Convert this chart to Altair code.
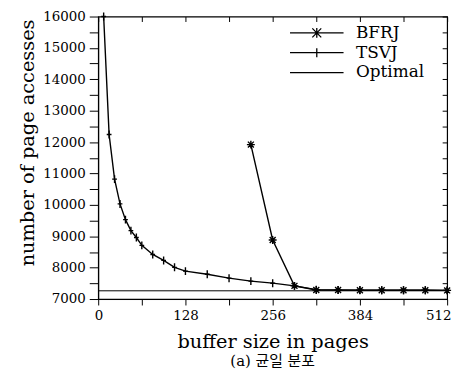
import altair as alt
import pandas as pd

# ---- data ----
tsvj_x = [8, 16, 24, 32, 40, 48, 56, 64, 80, 96, 112, 128, 160, 192, 224, 256, 288,
          320, 352, 384, 416, 448, 480, 512]
tsvj_y = [16000, 12240, 10820, 10030, 9530, 9180, 8960, 8710, 8420, 8230, 8010, 7890,
          7790, 7665, 7570, 7505, 7420, 7300, 7290, 7285, 7280, 7280, 7278, 7275]
bfrj_x = [224, 256, 288, 320, 352, 384, 416, 448, 480, 512]
bfrj_y = [11920, 8880, 7420, 7290, 7285, 7282, 7280, 7280, 7278, 7275]
opt_x = [0, 512]
opt_y = [7262, 7262]
series_names = ["BFRJ", "TSVJ", "Optimal"]
x_ticks = [0, 64, 128, 192, 256, 320, 384, 448, 512]
y_ticks = list(range(7000, 16001, 500))

SERIF = "DejaVu Serif, Liberation Serif, serif"
KFONT = "DejaVu Serif, Noto Sans CJK KR, serif"

df_bt = pd.DataFrame({
    "x": bfrj_x + tsvj_x,
    "y": bfrj_y + tsvj_y,
    "series": ["BFRJ"] * len(bfrj_x) + ["TSVJ"] * len(tsvj_x),
})
df_opt = pd.DataFrame({"x": opt_x, "y": opt_y, "series": ["Optimal"] * len(opt_x)})
df_all = pd.concat([df_bt, df_opt], ignore_index=True)

xs = alt.Scale(domain=[0, 512], nice=False, zero=False)
ys = alt.Scale(domain=[7000, 16000], nice=False, zero=False)

star = "M-1,0H1M0,-1V1M-0.75,-0.75L0.75,0.75M-0.75,0.75L0.75,-0.75"
plus = "M-0.6,0H0.6M0,-1V1"
# legend symbols: size 100 -> unit = 5px; line 54px wide
leg_star = "M-5.4,0H5.4M-0.9,-0.9L0.9,0.9M-0.9,0.9L0.9,-0.9M0,-1V1"
leg_plus = "M-5.4,0H5.4M0,-0.9V0.9"
leg_line = "M-5.4,0H5.4"

bottom_axis = alt.Axis(
    orient="bottom", values=x_ticks, title="buffer size in pages",
    labelExpr="datum.value % 128 == 0 ? datum.label : ''",
    labelFlush=True, labelFlushOffset=4,
    tickSize=6, labelPadding=4, titlePadding=10,
    labelFont=SERIF, labelFontSize=13.5, titleFont=SERIF, titleFontSize=19.5,
    titleFontWeight="normal", labelColor="black", titleColor="black",
    domainColor="black", tickColor="black", grid=False,
)
left_axis = alt.Axis(
    orient="left", values=y_ticks, title="number of page accesses",
    labelExpr="datum.value % 1000 == 0 ? datum.label : ''",
    format="d", tickSize=9, labelPadding=4, titlePadding=5,
    labelFont=SERIF, labelFontSize=13.5, titleFont=SERIF, titleFontSize=19.5,
    titleFontWeight="normal", labelColor="black", titleColor="black",
    domainColor="black", tickColor="black", grid=False, titleY=127,
)
top_axis = alt.Axis(orient="top", values=x_ticks, labels=False, title=None,
                    domain=False, tickSize=5, offset=-5, tickColor="black", grid=False)
right_axis = alt.Axis(orient="right", values=y_ticks, labels=False, title=None,
                      domain=False, tickSize=5, offset=-5, tickColor="black", grid=False)

lines = alt.Chart(df_bt).mark_line(color="black", strokeWidth=1.4).encode(
    x=alt.X("x:Q", scale=xs, axis=bottom_axis),
    y=alt.Y("y:Q", scale=ys, axis=left_axis),
    detail="series:N",
)
opt_line = alt.Chart(df_opt).mark_line(color="black", strokeWidth=1).encode(
    x=alt.X("x:Q", scale=xs, axis=None),
    y=alt.Y("y:Q", scale=ys, axis=None),
)
points = alt.Chart(df_bt).mark_point(color="black", strokeWidth=1.4, opacity=1).encode(
    x=alt.X("x:Q", scale=xs, axis=top_axis),
    y=alt.Y("y:Q", scale=ys, axis=right_axis),
    shape=alt.Shape("series:N", scale=alt.Scale(domain=["BFRJ", "TSVJ"], range=[star, plus]),
                    legend=None),
    size=alt.value(64),
)
legend_layer = alt.Chart(df_all).mark_point(color="black", opacity=0).encode(
    x=alt.X("x:Q", scale=xs, axis=None),
    y=alt.Y("y:Q", scale=ys, axis=None),
    shape=alt.Shape(
        "series:N",
        scale=alt.Scale(domain=series_names, range=[leg_star, leg_plus, leg_line]),
        legend=alt.Legend(
            title=None, orient="none", legendX=212, legendY=8,
            symbolSize=100, symbolStrokeWidth=1.3, symbolStrokeColor="black",
            symbolOpacity=1, symbolFillColor="transparent",
            labelFont=SERIF, labelFontSize=17, labelColor="black", labelOffset=31,
            rowPadding=2, padding=0,
        ),
    ),
)

chart = alt.layer(lines, opt_line, points, legend_layer).resolve_axis(
    x="independent", y="independent"
).resolve_scale(shape="independent").properties(
    width=352, height=285,
    padding={"left": 10, "top": 0, "right": 0, "bottom": 0},
    title=alt.Title("(a) 균일 분포", orient="bottom", font=KFONT, fontSize=15,
                    fontWeight="normal", color="black", anchor="middle", frame="group",
                    offset=4),
).configure_view(stroke="black", strokeWidth=1.2)

chart.save("out.html", embed_options={"renderer": "svg", "actions": False})
